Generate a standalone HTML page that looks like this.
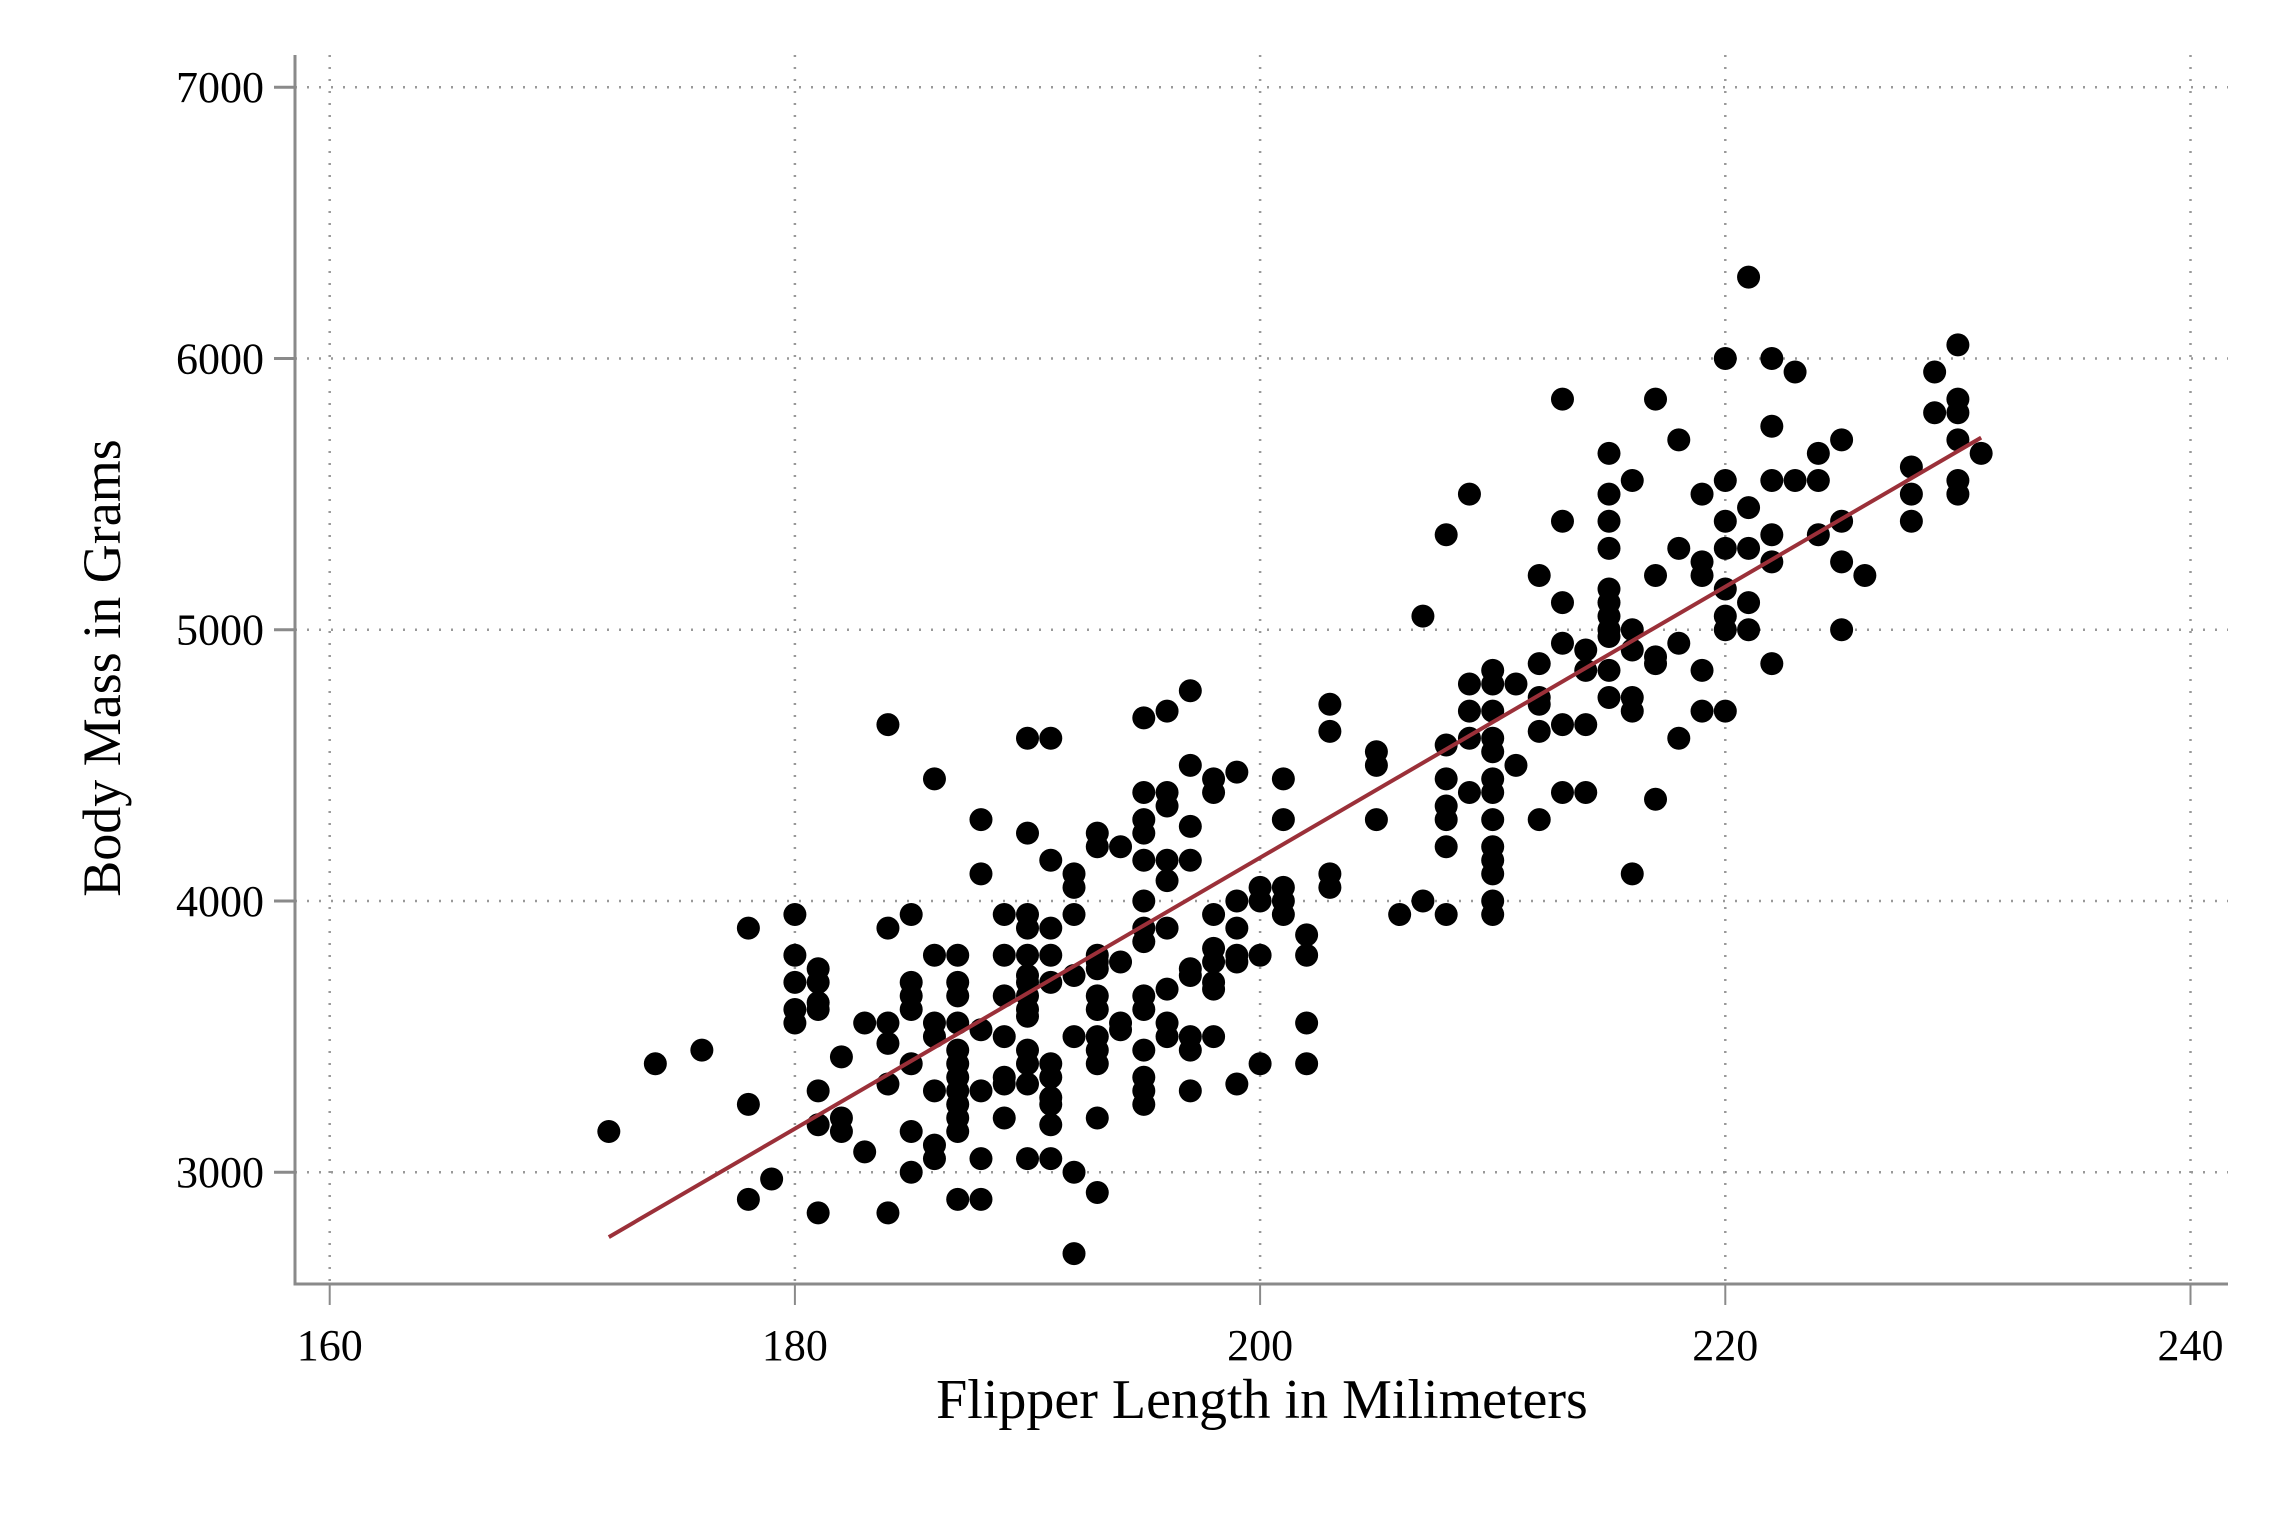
<!DOCTYPE html>
<html><head><meta charset="utf-8">
<style>
html,body{margin:0;padding:0;background:#fff;}
svg{display:block;}
text{font-family:"Liberation Serif",serif;fill:#000;}
</style></head>
<body>
<svg id="chart" width="2278" height="1518" viewBox="0 0 2278 1518" xmlns="http://www.w3.org/2000/svg">
<rect width="2278" height="1518" fill="#fff"/>
<g id="grid"></g>
<g id="points"></g>
<g id="fit"></g>
<g id="axes"></g>
<text x="1262" y="1418" font-size="56" text-anchor="middle">Flipper Length in Milimeters</text>
<text transform="translate(120,668) rotate(-90)" font-size="54" text-anchor="middle">Body Mass in Grams</text>
</svg>
<script>
const xTicks = [160, 180, 200, 220, 240];
const yTicks = [3000, 4000, 5000, 6000, 7000];
const flipperGroups = [172,174,176,178,179,180,181,182,183,184,185,186,187,188,189,190,191,192,193,194,195,196,197,198,199,200,201,202,203,205,206,207,208,209,210,211,212,213,214,215,216,217,218,219,220,221,222,223,224,225,226,228,229,230,231];
const massGroups = [
[3150],[3400],[3450],[3900,3250,2900],[2975],
[3950,3800,3700,3600,3550],
[3750,3700,3625,3600,3300,3175,2850],
[3425,3200,3150],[3550,3075],
[4650,3900,3550,3475,3325,2850],
[3950,3700,3650,3600,3400,3150,3000],
[4450,3800,3550,3500,3300,3100,3050],
[3800,3700,3650,3550,3450,3400,3350,3300,3250,3200,3150,2900],
[4300,4100,3525,3300,3050,2900],
[3950,3800,3650,3500,3350,3325,3200],
[4600,4250,3950,3900,3800,3725,3700,3650,3600,3575,3450,3400,3325,3050],
[4600,4150,3900,3800,3700,3400,3350,3275,3250,3175,3050],
[4100,4050,3950,3725,3500,3000,2700],
[4250,4200,3800,3775,3750,3650,3600,3500,3450,3400,3200,2925],
[4200,3775,3550,3525],
[4675,4400,4300,4250,4150,4000,3900,3850,3650,3600,3450,3350,3300,3250],
[4700,4400,4350,4150,4075,3900,3675,3550,3500],
[4775,4500,4275,4150,3750,3725,3500,3450,3300],
[4450,4400,3950,3825,3775,3700,3675,3500],
[4475,4000,3900,3800,3775,3325],
[4050,4000,3800,3400],
[4450,4300,4050,4000,3950],
[3875,3800,3550,3400],
[4725,4625,4100,4050],
[4550,4500,4300],[3950],[5050,4000],
[5350,4575,4450,4350,4300,4200,3950],
[5500,4800,4700,4600,4400],
[4850,4800,4700,4600,4550,4450,4400,4300,4200,4150,4100,4000,3950],
[4800,4500],
[5200,4875,4750,4725,4625,4300],
[5850,5400,5100,4950,4650,4400],
[4925,4850,4650,4400],
[5650,5500,5400,5300,5150,5100,5050,5000,4975,4850,4750],
[5550,5000,4925,4750,4700,4100],
[5850,5200,4900,4875,4375],
[5700,5300,4950,4600],
[5500,5250,5200,4850,4700],
[6000,5550,5400,5300,5150,5050,5000,4700],
[6300,5450,5300,5100,5000],
[6000,5750,5550,5350,5250,4875],
[5950,5550],[5650,5550,5350],[5700,5400,5250,5000],[5200],
[5600,5500,5400],[5950,5800],
[6050,5850,5800,5700,5550,5500],[5650]
];
const NS = "http://www.w3.org/2000/svg";
const X0 = 329.7, XS = 23.26, Y0 = 1172.2, YS = 0.27125;
const sx = v => X0 + (v - 160) * XS;
const sy = v => Y0 - (v - 3000) * YS;
const AX_L = 295, AX_B = 1284, AX_T = 55, AX_R = 2228;
function mk(tag, attrs, parent){const e=document.createElementNS(NS,tag);for(const k in attrs)e.setAttribute(k,attrs[k]);parent.appendChild(e);return e;}
const grid=document.getElementById('grid'), pts=document.getElementById('points'), fit=document.getElementById('fit'), axes=document.getElementById('axes');
xTicks.forEach(t=>{
  const l=mk('line',{x1:sx(t),x2:sx(t),y1:AX_T,y2:AX_B,stroke:'#999','stroke-width':2.5,'stroke-dasharray':'2,10'},grid);
  
  
});
yTicks.forEach(t=>{
  const l=mk('line',{x1:AX_L,x2:AX_R,y1:sy(t),y2:sy(t),stroke:'#999','stroke-width':2.5,'stroke-dasharray':'2,10'},grid);
  
  
});
let xs=[],ys=[];
flipperGroups.forEach((f,i)=>{massGroups[i].forEach(m=>{
  xs.push(f);ys.push(m);
  const c=mk('circle',{cx:sx(f),cy:sy(m),r:11.5,fill:'#000'},pts);
  
  
});});
const n=xs.length, mx=xs.reduce((a,b)=>a+b)/n, my=ys.reduce((a,b)=>a+b)/n;
let sxy=0,sxx=0;for(let i=0;i<n;i++){sxy+=(xs[i]-mx)*(ys[i]-my);sxx+=(xs[i]-mx)**2;}
const b=sxy/sxx, a=my-b*mx, xmin=Math.min(...xs), xmax=Math.max(...xs);
const fl=mk('line',{x1:sx(xmin),y1:sy(a+b*xmin),x2:sx(xmax),y2:sy(a+b*xmax),stroke:'#9b3039','stroke-width':4},fit);


const ya=mk('line',{x1:AX_L,x2:AX_L,y1:AX_T,y2:AX_B+1.5,stroke:'#8a8a8a','stroke-width':3},axes);


const xa=mk('line',{x1:AX_L-1.5,x2:AX_R,y1:AX_B,y2:AX_B,stroke:'#8a8a8a','stroke-width':3},axes);


yTicks.forEach(t=>{
  const tk=mk('line',{x1:AX_L-21,x2:AX_L,y1:sy(t),y2:sy(t),stroke:'#8a8a8a','stroke-width':3},axes);
  
  
  const tx=mk('text',{x:264,y:sy(t)+15,'font-size':44,'text-anchor':'end'},axes);
  tx.textContent=t;
  
  
});
xTicks.forEach(t=>{
  const tk=mk('line',{x1:sx(t),x2:sx(t),y1:AX_B,y2:AX_B+21,stroke:'#8a8a8a','stroke-width':2},axes);
  
  
  const tx=mk('text',{x:sx(t),y:1360,'font-size':44,'text-anchor':'middle'},axes);
  tx.textContent=t;
  
  
});
</script>
</body></html>
